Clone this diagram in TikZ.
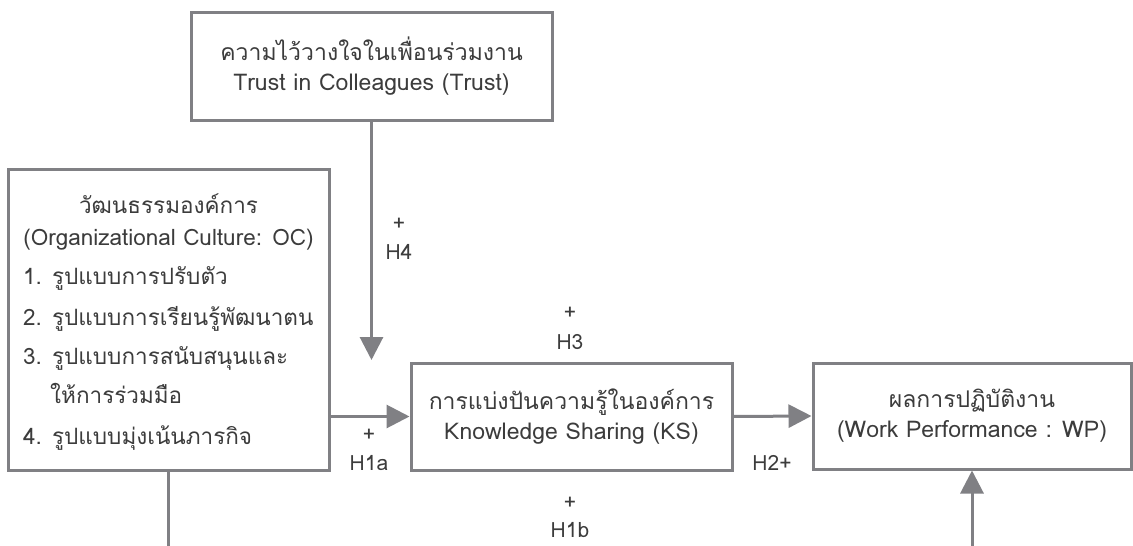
\documentclass[tikz,border=0pt]{standalone}
\usepackage{fontspec}
\setmainfont[Script=Thai]{Loma}
\usetikzlibrary{arrows.meta}
\definecolor{linegray}{RGB}{128,128,132}
\definecolor{txt}{RGB}{60,60,60}
\tikzset{
  box/.style={draw=linegray, line width=3pt, fill=white, align=center, inner sep=0pt, text=txt, font=\fontsize{23}{30}\selectfont},
  boxtext/.style={text=txt, font=\fontsize{22.5}{24}\selectfont, inner sep=0pt},
  lbl/.style={text=txt, font=\fontsize{21}{24}\selectfont, inner sep=0pt},
  conn/.style={draw=linegray, line width=3pt},
  arr/.style={conn, -{Triangle[length=23pt,width=23pt]}},
}
\begin{document}
\begin{tikzpicture}[x=1pt,y=-1pt]
\useasboundingbox (0,0) rectangle (1133,546);

% boxes
\node[box, minimum width=361pt, minimum height=108pt] (trust) at (371.5,66)
  {ความไว้วางใจในเพื่อนร่วมงาน\\Trust in Colleagues (Trust)};
\node[box, minimum width=321pt, minimum height=301pt] (oc) at (168.5,319.5) {};
\node[box, minimum width=321pt, minimum height=107pt] (ks) at (571.5,416.5)
  {การแบ่งปันความรู้ในองค์การ\\Knowledge Sharing (KS)};
\node[box, minimum width=318pt, minimum height=106pt] (wp) at (972,416)
  {ผลการปฏิบัติงาน\\(Work Performance : WP)};

% OC box contents
\node[boxtext, anchor=base] (oct1) at (168.5,213) {วัฒนธรรมองค์การ};
\node[boxtext, anchor=base] (oct2) at (168.5,245) {(Organizational Culture: OC)};
\node[boxtext, anchor=base west] (oci1) at (23,284) {1. รูปแบบการปรับตัว};
\node[boxtext, anchor=base west] (oci2) at (23,325) {2. รูปแบบการเรียนรู้พัฒนาตน};
\node[boxtext, anchor=base west] (oci3) at (23,364) {3. รูปแบบการสนับสนุนและ};
\node[boxtext, anchor=base west] (oci3b) at (50,403) {ให้การร่วมมือ};
\node[boxtext, anchor=base west] (oci4) at (23,444) {4. รูปแบบมุ่งเน้นภารกิจ};

% coordinates for free ends
\coordinate (trustend) at (trust.south |- 0,360);
\coordinate (ocend) at (oc.south |- 0,546);
\coordinate (wpstart) at (wp.south |- 0,546);

% connectors
\draw[arr] (trust.south) -- (trustend);
\draw[arr] (oc.east |- ks.west) -- (ks.west);
\draw[arr] (ks.east) -- (wp.west);
\draw[conn] (oc.south) -- (ocend);
\draw[arr] (wpstart) -- (wp.south);

% labels
\node[lbl] (p4) at (399,224) {+};
\node[lbl] (h4) at (399,252) {H4};
\node[lbl] (p3) at (570,313) {+};
\node[lbl] (h3) at (570,342) {H3};
\node[lbl] (p1a) at (369,435) {+};
\node[lbl] (h1a) at (369,463) {H1a};
\node[lbl] (h2) at (772,463) {H2+};
\node[lbl] (p1b) at (570,503) {+};
\node[lbl] (h1b) at (570,530) {H1b};
\end{tikzpicture}
\end{document}
